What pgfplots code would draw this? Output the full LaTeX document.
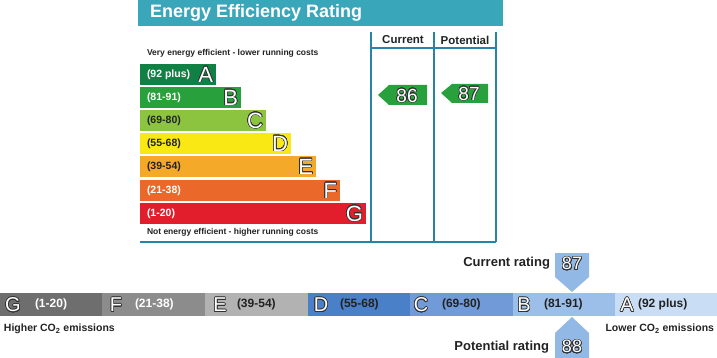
\documentclass[border=0pt]{standalone}
\usepackage{pgfplots}
\pgfplotsset{compat=1.18}
\usepackage{fontspec}
\setmainfont{Liberation Sans}
\usepackage[copies]{contour}
\contourlength{0.6pt}
\contournumber{24}
\definecolor{titlebar}{RGB}{58,166,186}
\definecolor{frameline}{RGB}{40,130,170}
\definecolor{bA}{RGB}{16,128,68}
\definecolor{bB}{RGB}{40,160,60}
\definecolor{bC}{RGB}{140,196,64}
\definecolor{bD}{RGB}{250,232,20}
\definecolor{bE}{RGB}{244,170,40}
\definecolor{bF}{RGB}{234,104,42}
\definecolor{bG}{RGB}{226,30,45}
\definecolor{gG}{RGB}{110,110,110}
\definecolor{gF}{RGB}{140,140,140}
\definecolor{gE}{RGB}{178,178,178}
\definecolor{gD}{RGB}{74,128,200}
\definecolor{gC}{RGB}{112,155,216}
\definecolor{gB}{RGB}{156,191,234}
\definecolor{gA}{RGB}{201,221,244}
\definecolor{pent}{RGB}{146,184,230}
\definecolor{txt}{RGB}{34,34,34}
\definecolor{olc}{RGB}{50,50,50}
\newcommand{\ol}[1]{\textcolor{white}{\contour{olc}{#1}}}
\begin{document}
\begin{tikzpicture}[every node/.style={inner sep=0pt,outer sep=0pt}]
\begin{axis}[width=717pt,height=358pt,scale only axis,
  xmin=0,xmax=717,ymin=0,ymax=358,y dir=reverse,
  axis lines=none,clip=false]
% title bar
\addplot[fill=titlebar,draw=none] coordinates {(138,0) (503,0) (503,26) (138,26)} -- cycle;
\node[anchor=west,text=white,font=\bfseries\fontsize{18}{18}\selectfont] at (axis cs:150,13) {Energy Efficiency Rating};
% frame
\addplot[draw=frameline,line width=2pt] coordinates {(371,32) (371,242)};
\addplot[draw=frameline,line width=2pt] coordinates {(434,32) (434,242)};
\addplot[draw=frameline,line width=2pt] coordinates {(496,32) (496,242)};
\addplot[draw=frameline,line width=2pt] coordinates {(371,48) (496,48)};
\addplot[draw=frameline,line width=2pt] coordinates {(140,242) (496,242)};
\node[text=txt,font=\bfseries\fontsize{11.5}{12}\selectfont] at (axis cs:403,40) {Current};
\node[text=txt,font=\bfseries\fontsize{11.5}{12}\selectfont] at (axis cs:465,40) {Potential};
\node[anchor=west,text=txt,font=\bfseries\fontsize{8.5}{9}\selectfont] at (axis cs:147,53) {Very energy efficient - lower running costs};
\node[anchor=west,text=txt,font=\bfseries\fontsize{8.5}{9}\selectfont] at (axis cs:147,232) {Not energy efficient - higher running costs};
% bands
\addplot[fill=bA,draw=none] coordinates {(140,64) (216,64) (216,85) (140,85)} -- cycle;
\addplot[fill=bB,draw=none] coordinates {(140,87) (241,87) (241,108) (140,108)} -- cycle;
\addplot[fill=bC,draw=none] coordinates {(140,110) (266,110) (266,131) (140,131)} -- cycle;
\addplot[fill=bD,draw=none] coordinates {(140,133) (291,133) (291,154) (140,154)} -- cycle;
\addplot[fill=bE,draw=none] coordinates {(140,156) (316,156) (316,177) (140,177)} -- cycle;
\addplot[fill=bF,draw=none] coordinates {(140,180) (340,180) (340,201) (140,201)} -- cycle;
\addplot[fill=bG,draw=none] coordinates {(140,203) (366,203) (366,224) (140,224)} -- cycle;
\begin{scope}[every node/.append style={anchor=west,font=\bfseries\fontsize{10.5}{11}\selectfont}]
\node[text=white] at (axis cs:147,75) {(92 plus)};
\node[text=white] at (axis cs:147,98) {(81-91)};
\node[text=txt] at (axis cs:147,121) {(69-80)};
\node[text=txt] at (axis cs:147,144) {(55-68)};
\node[text=txt] at (axis cs:147,167) {(39-54)};
\node[text=white] at (axis cs:147,191) {(21-38)};
\node[text=white] at (axis cs:147,214) {(1-20)};
\end{scope}
\begin{scope}[every node/.append style={anchor=east,font=\fontsize{22}{22}\selectfont}]
\node at (axis cs:213,75) {\ol{A}};
\node at (axis cs:238,98) {\ol{B}};
\node at (axis cs:263,121) {\ol{C}};
\node at (axis cs:288,144) {\ol{D}};
\node at (axis cs:313,167) {\ol{E}};
\node at (axis cs:337,191) {\ol{F}};
\node at (axis cs:363,214) {\ol{G}};
\end{scope}
% arrows top
\addplot[fill=bB,draw=none] coordinates {(378,95) (389,85) (427,85) (427,105) (389,105)} -- cycle;
\addplot[fill=bB,draw=none] coordinates {(441,93) (452,84) (488,84) (488,103) (452,103)} -- cycle;
\node[font=\fontsize{19}{19}\selectfont] at (axis cs:407,96) {\ol{86}};
\node[font=\fontsize{19}{19}\selectfont] at (axis cs:469,94) {\ol{87}};
% bottom scale
\addplot[fill=gG,draw=none] coordinates {(0,293) (102,293) (102,316) (0,316)} -- cycle;
\addplot[fill=gF,draw=none] coordinates {(102,293) (205,293) (205,316) (102,316)} -- cycle;
\addplot[fill=gE,draw=none] coordinates {(205,293) (308,293) (308,316) (205,316)} -- cycle;
\addplot[fill=gD,draw=none] coordinates {(308,293) (410,293) (410,316) (308,316)} -- cycle;
\addplot[fill=gC,draw=none] coordinates {(410,293) (513,293) (513,316) (410,316)} -- cycle;
\addplot[fill=gB,draw=none] coordinates {(513,293) (615,293) (615,316) (513,316)} -- cycle;
\addplot[fill=gA,draw=none] coordinates {(615,293) (717,293) (717,316) (615,316)} -- cycle;
\begin{scope}[every node/.append style={font=\fontsize{20}{20}\selectfont}]
\node at (axis cs:13,305) {\ol{G}};
\node at (axis cs:116,305) {\ol{F}};
\node at (axis cs:220,305) {\ol{E}};
\node at (axis cs:321,305) {\ol{D}};
\node at (axis cs:421,305) {\ol{C}};
\node at (axis cs:524,305) {\ol{B}};
\node at (axis cs:627,305) {\ol{A}};
\end{scope}
\begin{scope}[every node/.append style={anchor=west,font=\bfseries\fontsize{12}{12}\selectfont}]
\node[text=white] at (axis cs:35,304) {(1-20)};
\node[text=white] at (axis cs:135,304) {(21-38)};
\node[text=txt] at (axis cs:237,304) {(39-54)};
\node[text=txt] at (axis cs:340,304) {(55-68)};
\node[text=txt] at (axis cs:442,304) {(69-80)};
\node[text=txt] at (axis cs:544,304) {(81-91)};
\node[text=txt] at (axis cs:638,304) {(92 plus)};
\end{scope}
\node[anchor=west,text=txt,font=\bfseries\fontsize{10.5}{11}\selectfont] at (axis cs:4,329) {Higher CO\textsubscript{2} emissions};
\node[anchor=east,text=txt,font=\bfseries\fontsize{10.5}{11}\selectfont] at (axis cs:714,329) {Lower CO\textsubscript{2} emissions};
% pentagons
\addplot[fill=pent,draw=none] coordinates {(555,253) (589,253) (589,277) (572,292) (555,277)} -- cycle;
\addplot[fill=pent,draw=none] coordinates {(572,317) (589,333) (589,358) (555,358) (555,333)} -- cycle;
\node[font=\fontsize{18}{18}\selectfont] at (axis cs:572,264) {\ol{87}};
\node[font=\fontsize{18}{18}\selectfont] at (axis cs:572,347) {\ol{88}};
\node[anchor=east,text=txt,font=\bfseries\fontsize{13}{13}\selectfont] at (axis cs:550,263) {Current rating};
\node[anchor=east,text=txt,font=\bfseries\fontsize{13}{13}\selectfont] at (axis cs:549,347) {Potential rating};
\end{axis}
\end{tikzpicture}
\end{document}
